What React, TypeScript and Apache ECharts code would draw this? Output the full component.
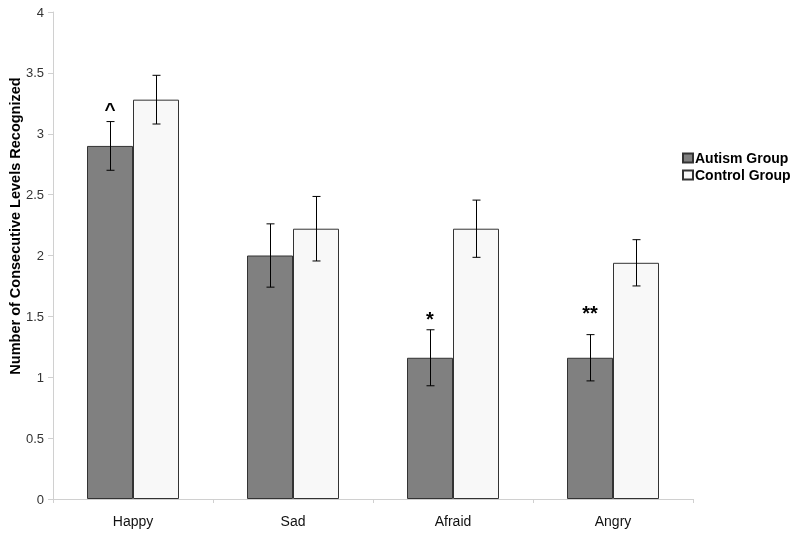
import React, { useEffect, useRef } from "react";
import * as echarts from "echarts";

const categories = ["Happy", "Sad", "Afraid", "Angry"];
const autismValues = [2.9, 2.0, 1.16, 1.16];
const controlValues = [3.28, 2.22, 2.22, 1.94];
const autismErrors = [0.2, 0.26, 0.23, 0.19];
const controlErrors = [0.2, 0.265, 0.235, 0.19];
const annotationTexts = ["^", "", "*", "**"];
const annotationValues = [3.2, 0, 1.48, 1.53];
const yTicks = [0, 0.5, 1, 1.5, 2, 2.5, 3, 3.5, 4];
const yAxisTitle = "Number of Consecutive Levels Recognized";

const FONT = "'Liberation Sans', Arial, sans-serif";
const BAR_FRAC = 0.2875;

export default function App() {
  const ref = useRef<HTMLDivElement>(null);
  useEffect(() => {
    if (!ref.current) return;
    const chart = echarts.init(ref.current, undefined, { renderer: "svg" });

    const errData = (vals: number[], errs: number[]) =>
      vals.map((v, i) => [i, v - errs[i], v + errs[i]]);

    const errorSeries = (name: string, vals: number[], errs: number[], side: number) => ({
      type: "custom",
      name,
      renderItem: (params: any, api: any) => {
        const idx = api.value(0);
        const lo = api.coord([idx, api.value(1)]);
        const hi = api.coord([idx, api.value(2)]);
        const band = api.size([1, 0])[0];
        const off = (band * BAR_FRAC) / 2 * side;
        const x = Math.round(lo[0] + off) + 0.5;
        const cap = 4;
        const style = { stroke: "#000", lineWidth: 1 };
        return {
          type: "group",
          children: [
            { type: "line", shape: { x1: x, y1: hi[1], x2: x, y2: lo[1] }, style },
            { type: "line", shape: { x1: x - cap, y1: hi[1], x2: x + cap, y2: hi[1] }, style },
            { type: "line", shape: { x1: x - cap, y1: lo[1], x2: x + cap, y2: lo[1] }, style },
          ],
        };
      },
      encode: { x: 0, y: [1, 2] },
      data: errData(vals, errs),
      z: 5,
      silent: true,
    });

    chart.setOption({
      animation: false,
      textStyle: { fontFamily: FONT },
      grid: { left: 53, right: 107, top: 12, bottom: 37, outerBoundsMode: "none", containLabel: false },
      graphic: [
        {
          type: "text",
          x: 15,
          y: 226,
          rotation: Math.PI / 2,
          style: {
            text: yAxisTitle,
            fontFamily: FONT,
            fontWeight: "bold",
            fontSize: 14.5,
            fill: "#000",
            align: "center",
            verticalAlign: "middle",
          },
        },
      ],
      legend: {
        orient: "vertical",
        left: 677,
        top: 146,
        itemWidth: 10,
        itemHeight: 9,
        itemGap: 3,
        icon: "rect",
        data: ["Autism Group", "Control Group"],
        textStyle: { fontFamily: FONT, fontWeight: "bold", fontSize: 14, color: "#000", padding: [0, 0, 0, -3] },
      },
      xAxis: {
        type: "category",
        data: categories,
        axisLine: { lineStyle: { color: "#d0d0d0" } },
        axisTick: { show: true, length: 4, lineStyle: { color: "#d0d0d0" } },
        axisLabel: { color: "#111", fontSize: 14, margin: 15, fontFamily: FONT },
      },
      yAxis: {
        type: "value",
        min: 0,
        max: 4,
        interval: 0.5,
        axisLine: { show: true, lineStyle: { color: "#d0d0d0" } },
        axisTick: { show: true, length: 5, lineStyle: { color: "#d0d0d0" } },
        splitLine: { show: false },
        axisLabel: {
          color: "#333",
          fontSize: 13,
          margin: 9,
          fontFamily: FONT,
          formatter: (v: number) => (yTicks.includes(v) ? String(v) : ""),
        },
      },
      series: [
        {
          type: "bar",
          name: "Autism Group",
          data: autismValues,
          barWidth: `${BAR_FRAC * 100}%`,
          barGap: "0%",
          itemStyle: { color: "#808080", borderColor: "#333", borderWidth: 1 },
        },
        {
          type: "bar",
          name: "Control Group",
          data: controlValues,
          barWidth: `${BAR_FRAC * 100}%`,
          barGap: "0%",
          itemStyle: { color: "#f8f8f8", borderColor: "#333", borderWidth: 1 },
        },
        errorSeries("autismErr", autismValues, autismErrors, -1),
        errorSeries("controlErr", controlValues, controlErrors, 1),
        {
          type: "custom",
          name: "annotations",
          renderItem: (params: any, api: any) => {
            const idx = api.value(0);
            const text = annotationTexts[params.dataIndex];
            if (!text) return null;
            const p = api.coord([idx, api.value(1)]);
            const band = api.size([1, 0])[0];
            const off = (band * BAR_FRAC) / 2;
            return {
              type: "text",
              x: p[0] - off,
              y: p[1],
              style: {
                text,
                fontFamily: FONT,
                fontWeight: "bold",
                fontSize: text === "^" ? 19 : 20,
                fill: "#000",
                align: "center",
                verticalAlign: "middle",
              },
            };
          },
          encode: { x: 0, y: 1 },
          data: annotationValues.map((v, i) => [i, v]),
          z: 6,
          silent: true,
        },
      ],
    });
    return () => chart.dispose();
  }, []);
  return (
    <div
      ref={ref}
      style={{ position: "fixed", left: 0, top: 0, width: 800, height: 536 }}
    />
  );
}
